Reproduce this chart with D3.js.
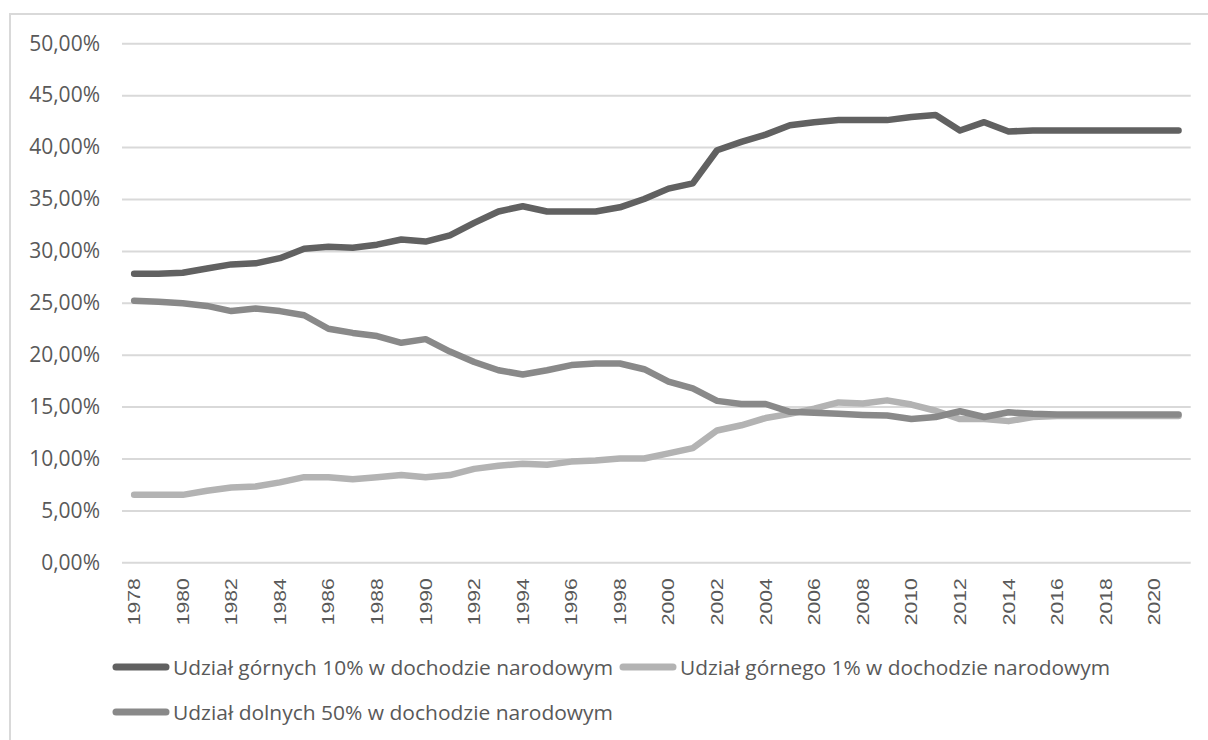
<!DOCTYPE html>
<html>
<head>
<meta charset="utf-8">
<script src="https://cdnjs.cloudflare.com/ajax/libs/d3/7.8.5/d3.min.js"></script>
<style>
    body { margin: 0; background: #fff; }
    svg { display: block; }
</style>
</head>
<body>
<div id="chart"></div>
<script>
// categories (years)
const years = [1978, 1979, 1980, 1981, 1982, 1983, 1984, 1985, 1986, 1987,
    1988, 1989, 1990, 1991, 1992, 1993, 1994, 1995, 1996, 1997,
    1998, 1999, 2000, 2001, 2002, 2003, 2004, 2005, 2006, 2007,
    2008, 2009, 2010, 2011, 2012, 2013, 2014, 2015, 2016, 2017,
    2018, 2019, 2020, 2021];

// udział górnych 10% (w %)
const top10 = [27.8, 27.8, 27.9, 28.3, 28.7, 28.8, 29.3, 30.2, 30.4, 30.3,
    30.6, 31.1, 30.9, 31.5, 32.7, 33.8, 34.3, 33.8, 33.8, 33.8,
    34.2, 35.0, 36.0, 36.5, 39.7, 40.5, 41.2, 42.1, 42.4, 42.6,
    42.6, 42.6, 42.9, 43.1, 41.6, 42.4, 41.5, 41.6, 41.6, 41.6,
    41.6, 41.6, 41.6, 41.6];

// udział górnego 1%
const top1 = [6.5, 6.5, 6.5, 6.9, 7.2, 7.3, 7.7, 8.2, 8.2, 8.0,
    8.2, 8.4, 8.2, 8.4, 9.0, 9.3, 9.5, 9.4, 9.7, 9.8,
    10.0, 10.0, 10.5, 11.0, 12.7, 13.2, 13.9, 14.3, 14.8, 15.4,
    15.3, 15.6, 15.2, 14.6, 13.8, 13.8, 13.6, 14.0, 14.1, 14.1,
    14.1, 14.1, 14.1, 14.1];

// udział dolnych 50%
const bottom50 = [25.2, 25.1, 24.95, 24.7, 24.2, 24.45, 24.2, 23.8, 22.5, 22.1,
    21.8, 21.15, 21.5, 20.3, 19.3, 18.5, 18.1, 18.5, 19.0, 19.15,
    19.15, 18.6, 17.4, 16.75, 15.55, 15.25, 15.25, 14.5, 14.4, 14.3,
    14.2, 14.15, 13.8, 14.0, 14.55, 14.0, 14.45, 14.3, 14.25, 14.25,
    14.25, 14.25, 14.25, 14.25];

const yTicks = [0, 5, 10, 15, 20, 25, 30, 35, 40, 45, 50];
const xTickYears = years.filter((y, i) => i % 2 === 0);

const seriesNames = [
    'Udział górnych 10% w dochodzie narodowym',
    'Udział górnego 1% w dochodzie narodowym',
    'Udział dolnych 50% w dochodzie narodowym'
];
const seriesColors = ['#616161', '#b3b3b3', '#898989'];

const W = 1208, H = 740;
const plot = {left: 122, right: 1190.7, top: 43.3, bottom: 562.3};

const svg = d3.select('#chart').append('svg')
    .attr('width', W).attr('height', H);

// chart frame
svg.append('rect')
    .attr('x', 10).attr('y', 14)
    .attr('width', 1230).attr('height', 760)
    .attr('fill', '#fff')
    .attr('stroke', '#d9d9d9').attr('stroke-width', 2);

const x = d3.scaleBand().domain(years).range([plot.left, plot.right]);
const y = d3.scaleLinear().domain([0, 50]).range([plot.bottom, plot.top]);
const cx = d => x(d) + x.bandwidth() / 2;

// gridlines + y labels
const yAxis = d3.axisLeft(y).tickValues(yTicks)
    .tickSize(-(plot.right - plot.left))
    .tickPadding(22)
    .tickFormat(d => d.toFixed(2).replace('.', ',') + '%');

const gy = svg.append('g')
    .attr('transform', `translate(${plot.left},0)`)
    .call(yAxis);
gy.select('.domain').remove();
gy.selectAll('.tick line').attr('stroke', '#d9d9d9').attr('stroke-width', 2);
gy.selectAll('.tick text')
    .attr('fill', '#595959')
    .style('font-family', '"Open Sans", sans-serif')
    .style('font-size', '21px');

// x labels (rotated, every second year)
const xAxis = d3.axisBottom(x).tickValues(xTickYears).tickSize(0).tickPadding(0);
const gx = svg.append('g')
    .attr('transform', `translate(0,${plot.bottom})`)
    .call(xAxis);
gx.select('.domain').remove();
gx.selectAll('.tick text')
    .attr('fill', '#595959')
    .attr('text-anchor', 'end')
    .attr('dy', null)
    .attr('y', 0)
    .attr('x', 0)
    .attr('transform', 'translate(6,16) rotate(-90)')
    .attr('textLength', 47)
    .attr('lengthAdjust', 'spacingAndGlyphs')
    .style('font-family', '"Liberation Sans", Arial, sans-serif')
    .style('font-size', '17px');

// lines
const line = d3.line()
    .x((d, i) => cx(years[i]))
    .y(d => y(d));

[top10, top1, bottom50].forEach((s, i) => {
    svg.append('path')
        .datum(s)
        .attr('d', line)
        .attr('fill', 'none')
        .attr('stroke', seriesColors[i])
        .attr('stroke-width', 6.5)
        .attr('stroke-linecap', 'round')
        .attr('stroke-linejoin', 'round');
});

// legend
const legendItems = [
    {x: 116, y: 667, len: 440},
    {x: 623, y: 667, len: 430},
    {x: 116, y: 712, len: 440}
];

legendItems.forEach((it, i) => {
    const g = svg.append('g').attr('transform', `translate(${it.x},${it.y})`);
    g.append('line')
        .attr('x1', 0).attr('x2', 50)
        .attr('y1', 0).attr('y2', 0)
        .attr('stroke', seriesColors[i])
        .attr('stroke-width', 7)
        .attr('stroke-linecap', 'round');
    g.append('text')
        .attr('x', 57).attr('y', 0)
        .attr('dominant-baseline', 'central')
        .attr('fill', '#595959')
        .attr('textLength', it.len)
        .attr('lengthAdjust', 'spacingAndGlyphs')
        .style('font-family', '"Open Sans", sans-serif')
        .style('font-size', '20px')
        .text(seriesNames[i]);
});
</script>
</body>
</html>
